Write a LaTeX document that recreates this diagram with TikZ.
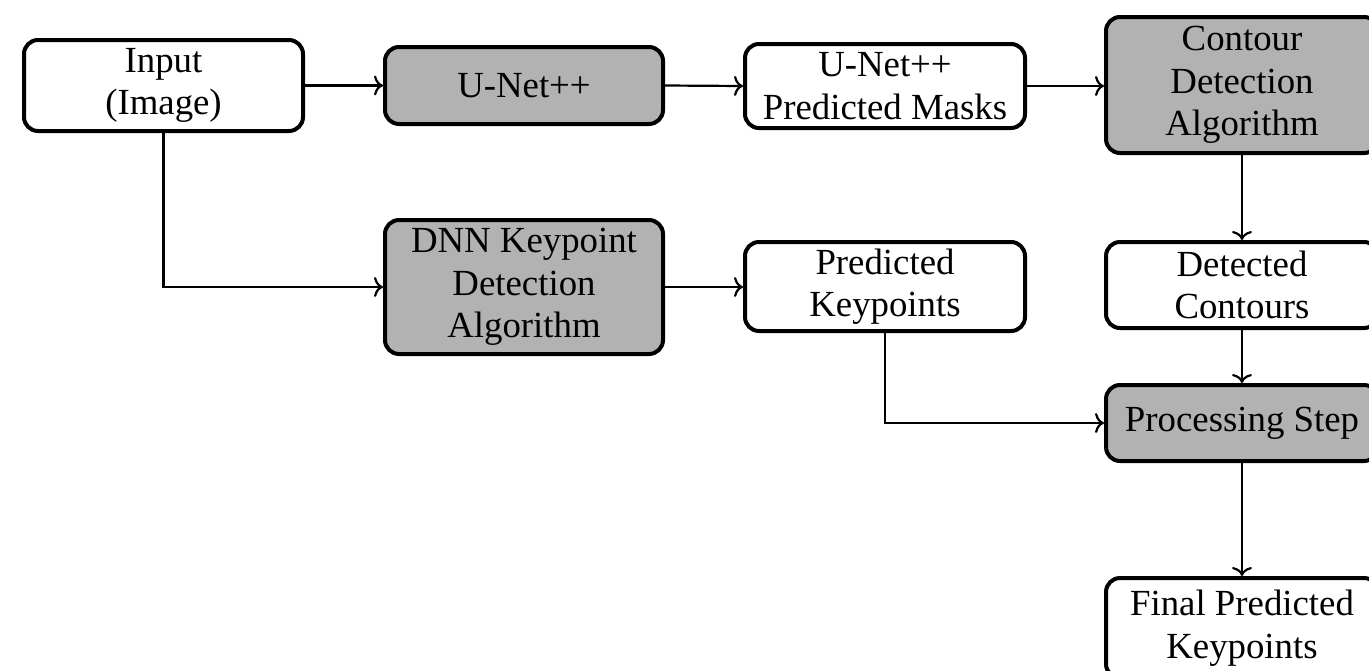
\documentclass[tikz,border=0pt]{standalone}
\usepackage{fontspec}
\setmainfont{Liberation Serif}
\usetikzlibrary{arrows.meta}
\begin{document}
\begin{tikzpicture}[x=0.5pt,y=-0.5pt,
  box/.style={draw, line width=2pt, rounded corners=7pt, align=center,
    font=\fontsize{18.4}{21.3}\selectfont, inner sep=0pt},
  dark/.style={box, fill=gray!60},
  light/.style={box, fill=white},
  conn/.style={-{Computer Modern Rightarrow[length=4.5pt,width=10pt]}, line width=1.1pt}]
\clip (0,0) rectangle (1369,670);
% top row
\node[light, minimum width=139.5pt, minimum height=45.5pt] (inp) at (163.5,85.5) {Input\\(Image)};
\node[dark, minimum width=139pt, minimum height=38.5pt] (unet) at (524,85.5) {U-Net++};
\node[light, minimum width=140pt, minimum height=42pt] (masks) at (885,86) {U-Net++\\Predicted Masks};
\node[dark, minimum width=136pt, minimum height=68pt] (contour) at (1242,85) {Contour\\Detection\\Algorithm};
% keypoint branch
\node[dark, minimum width=139pt, minimum height=67pt] (dnn) at (524,287) {DNN Keypoint\\Detection\\Algorithm};
\node[light, minimum width=140pt, minimum height=44.5pt] (predk) at (885,286.5) {Predicted\\Keypoints};
% right column
\node[light, minimum width=136pt, minimum height=43pt] (detected) at (1242,285) {Detected\\Contours};
\node[dark, minimum width=136pt, minimum height=38pt] (proc) at (1242,423) {Processing Step};
\node[light, minimum width=136pt, minimum height=50pt] (final) at (1242,628) {Final Predicted\\Keypoints};
% connectors
\draw[conn] (inp.east) -- (unet.west);
\draw[conn] (unet.east) -- (masks.west);
\draw[conn] (masks.east) -- (masks.east -| contour.west);
\draw[conn] (inp.south) |- (dnn.west);
\draw[conn] (dnn.east) -- (dnn.east -| predk.west);
\draw[conn] (predk.south) |- (proc.west);
\draw[conn] (contour.south) -- (detected.north);
\draw[conn] (detected.south) -- (proc.north);
\draw[conn] (proc.south) -- (final.north);
\end{tikzpicture}
\end{document}
